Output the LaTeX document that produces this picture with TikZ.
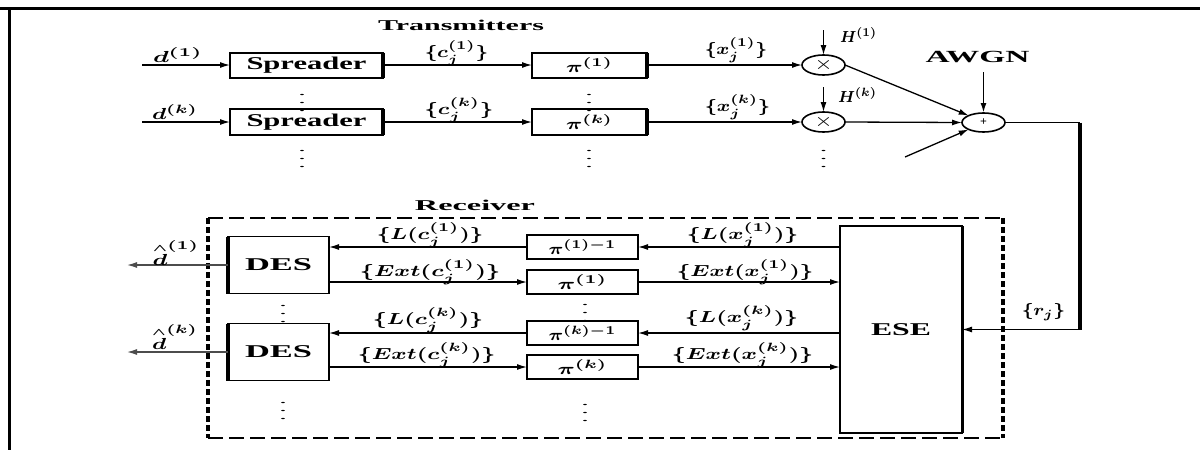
\documentclass[tikz,border=0pt]{standalone}
\usepackage{amsmath}
\usepackage{fontspec}
\setmainfont{Liberation Serif}
\usetikzlibrary{arrows.meta,shapes.geometric}
\newcommand{\hstr}[2]{\resizebox{#1}{\height}{#2}}
\newcommand{\dhat}{\overset{\scriptscriptstyle\wedge}{d}}
\newcommand{\vdt}{\hstr{4pt}{\fontsize{5.5}{6}\selectfont\boldmath$\vdots$}}
\begin{document}
\begin{tikzpicture}[x=0.5pt,y=-0.5pt,
  every node/.style={inner sep=0pt,outer sep=0pt},
  ln/.style={line width=0.65pt},
  arr/.style={ln,-{Latex[length=5pt,width=3pt]}},
  blk/.style={draw,line width=1pt,fill=white,font=\fontsize{9}{10}\selectfont\bfseries\boldmath},
  mul/.style={draw,ellipse,line width=0.8pt,minimum width=21.5pt,minimum height=10pt},
  lbl/.style={font=\fontsize{8}{9}\selectfont\boldmath},
  ttl/.style={font=\fontsize{7.5}{9}\selectfont\bfseries},
  vd/.style={}
]
\useasboundingbox (0,0) rectangle (1200,450);
\fill[white] (0,0) rectangle (1200,450);
% frame
\draw[line width=1.5pt] (0,8) -- (1200,8);
\draw[line width=1.5pt] (9,8) -- (9,450);

% ---------------- Transmitters ----------------
\node[ttl] (ttx) at (461,25) {\hstr{83pt}{Transmitters}};

\node[blk,minimum width=76.5pt,minimum height=12.5pt] (sp1) at (306.5,65) {\hstr{60pt}{Spreader}};
\node[blk,minimum width=76.5pt,minimum height=13pt] (sp2) at (306.5,122) {\hstr{60pt}{Spreader}};
\draw[line width=1.6pt] (sp1.north east) -- (sp1.south east);
\draw[line width=1.6pt] (sp2.north east) -- (sp2.south east);

\node[blk,font=\fontsize{8}{9}\selectfont\boldmath,minimum width=57.5pt,minimum height=12.5pt] (pi1) at (589.5,65) {\hstr{23.5pt}{$\pi^{(1)}$}};
\node[blk,font=\fontsize{8}{9}\selectfont\boldmath,minimum width=57.5pt,minimum height=13pt] (pi2) at (589.5,122) {\hstr{23.5pt}{$\pi^{(k)}$}};
\draw[line width=1.6pt] (pi1.north east) -- (pi1.south east);
\draw[line width=1.6pt] (pi2.north east) -- (pi2.south east);

\node[mul] (m1) at (823.5,65) {\hstr{9pt}{\fontsize{9}{9}\selectfont$\times$}};
\node[mul] (m2) at (823.5,122) {\hstr{9pt}{\fontsize{9}{9}\selectfont$\times$}};
\node[mul,minimum height=9.5pt] (sum) at (983.5,122.5) {\fontsize{6}{6}\selectfont\bfseries +};

\coordinate (in1) at (142,65);
\coordinate (in2) at (142,122);
\coordinate (h1) at (823.5,30);
\coordinate (h2) at (823.5,87);
\coordinate (aw) at (983.5,72);
\coordinate (lo) at (905,157);
\coordinate (c1) at (1080,122.5);
\coordinate (c2) at (1080,329.5);

\draw[arr] (in1) -- (sp1.west);
\draw[arr] (in2) -- (sp2.west);
\draw[arr] (sp1.east) -- (pi1.west);
\draw[arr] (sp2.east) -- (pi2.west);
\draw[arr] (pi1.east) -- (m1.west);
\draw[arr] (pi2.east) -- (m2.west);
\draw[arr] (h1) -- (m1.north);
\draw[arr] (h2) -- (m2.north);
\draw[arr] (m1.east) -- (sum.155);
\draw[arr] (m2.east) -- (sum.west);
\draw[arr] (lo) -- (sum.205);
\draw[arr,line width=0.9pt] (aw) -- (sum.north);

\node[lbl] (ld1) at (178,55) {\hstr{25pt}{$d^{(1)}$}};
\node[lbl] (ldk) at (175,112) {\hstr{23pt}{$d^{(k)}$}};
\node[lbl] (lc1) at (456.5,53) {\hstr{31.5pt}{$\{c_j^{(1)}\}$}};
\node[lbl] (lck) at (459,110) {\hstr{34pt}{$\{c_j^{(k)}\}$}};
\node[lbl] (lx1) at (736,50) {\hstr{31pt}{$\{x_j^{(1)}\}$}};
\node[lbl] (lxk) at (737.5,107) {\hstr{32.5pt}{$\{x_j^{(k)}\}$}};
\node[lbl] (lh1) at (858.5,35) {\hstr{18.5pt}{$\boldsymbol{H}^{(1)}$}};
\node[lbl] (lhk) at (857.5,95) {\hstr{19.5pt}{$\boldsymbol{H}^{(k)}$}};
\node[font=\fontsize{8.5}{10}\selectfont\bfseries] (awgn) at (977.5,57) {\hstr{52pt}{AWGN}};

\node[vd] (v1) at (302,97) {\vdt};
\node[vd] (v2) at (302,153) {\vdt};
\node[vd] (v3) at (589,97) {\vdt};
\node[vd] (v4) at (589,153) {\vdt};
\node[vd] (v5) at (823.5,153) {\vdt};

% feedback line
\draw[line width=0.9pt] (sum.east) -- (c1);
\draw[line width=1.8pt] (c1) -- (c2);

% ---------------- Receiver ----------------
\node[ttl] (trx) at (475,205) {\hstr{60pt}{Receiver}};
\draw[line width=1.3pt,dash pattern=on 7.5pt off 3pt] (208,218) -- (1003,218);
\draw[line width=1.3pt,dash pattern=on 7.5pt off 3pt] (208,438) -- (1003,438);
\draw[line width=1.8pt,dash pattern=on 3pt off 1.5pt] (208,218) -- (208,438);
\draw[line width=1.8pt,dash pattern=on 3pt off 1.5pt] (1003,218) -- (1003,438);

\node[blk,line width=0.6pt,minimum width=50.5pt,minimum height=28.5pt] (des1) at (278.5,265) {\hstr{33.5pt}{DES}};
\node[blk,line width=0.6pt,minimum width=50.5pt,minimum height=28.5pt] (des2) at (278.5,352) {\hstr{33.5pt}{DES}};
\draw[line width=1.6pt] (des1.north west) -- (des1.south west);
\draw[line width=1.6pt] (des2.north west) -- (des2.south west);

\node[blk,line width=0.8pt,minimum width=61pt,minimum height=103.5pt] (ese) at (901,329.5) {\hstr{30pt}{ESE}};
\draw[line width=1.5pt] (ese.north east) -- (ese.south east);

\node[blk,line width=0.9pt,font=\fontsize{8}{9}\selectfont\boldmath,minimum width=55.5pt,minimum height=12pt] (rp1i) at (582.5,247) {\hstr{34pt}{$\pi^{(1)-1}$}};
\node[blk,line width=0.9pt,font=\fontsize{8}{9}\selectfont\boldmath,minimum width=55.5pt,minimum height=12pt] (rp1) at (582.5,282) {\hstr{25pt}{$\pi^{(1)}$}};
\node[blk,line width=0.9pt,font=\fontsize{8}{9}\selectfont\boldmath,minimum width=55.5pt,minimum height=12pt] (rpki) at (582.5,333) {\hstr{34pt}{$\pi^{(k)-1}$}};
\node[blk,line width=0.9pt,font=\fontsize{8}{9}\selectfont\boldmath,minimum width=55.5pt,minimum height=12pt] (rpk) at (582.5,367) {\hstr{25pt}{$\pi^{(k)}$}};

\coordinate (o1) at (127,265);
\coordinate (o2) at (127,352);
\draw[arr,black!70] (des1.west) -- (o1);
\draw[arr,black!70] (des2.west) -- (o2);

\draw[arr] (rp1i.east -| ese.west) -- (rp1i.east);
\draw[arr] (rp1.east) -- (rp1.east -| ese.west);
\draw[arr] (rpki.east -| ese.west) -- (rpki.east);
\draw[arr] (rpk.east) -- (rpk.east -| ese.west);
\draw[arr] (rp1i.west) -- (rp1i.west -| des1.east);
\draw[arr] (rp1.west -| des1.east) -- (rp1.west);
\draw[arr] (rpki.west) -- (rpki.west -| des2.east);
\draw[arr] (rpk.west -| des2.east) -- (rpk.west);
\draw[arr] (c2) -- (ese.east);

\node[lbl] (ldh1) at (176,253) {\hstr{23.5pt}{$\dhat^{(1)}$}};
\node[lbl] (ldhk) at (175,337) {\hstr{23pt}{$\dhat^{(k)}$}};
\node[lbl] (lLc1) at (430,235) {\hstr{53pt}{$\{L(c_j^{(1)})\}$}};
\node[lbl] (lEc1) at (430,272) {\hstr{70pt}{$\{Ext(c_j^{(1)})\}$}};
\node[lbl] (lLck) at (428,320) {\hstr{55pt}{$\{L(c_j^{(k)})\}$}};
\node[lbl] (lEck) at (426.5,355) {\hstr{68.5pt}{$\{Ext(c_j^{(k)})\}$}};
\node[lbl] (lLx1) at (742.5,235) {\hstr{55.5pt}{$\{L(x_j^{(1)})\}$}};
\node[lbl] (lEx1) at (745,272) {\hstr{68pt}{$\{Ext(x_j^{(1)})\}$}};
\node[lbl] (lLxk) at (741.5,318) {\hstr{56.5pt}{$\{L(x_j^{(k)})\}$}};
\node[lbl] (lExk) at (742.5,355) {\hstr{70.5pt}{$\{Ext(x_j^{(k)})\}$}};
\node[lbl] (lr) at (1043.5,312) {\hstr{21.5pt}{$\{r_j\}$}};

\node[vd] (v6) at (283,308) {\vdt};
\node[vd] (v7) at (283,405) {\vdt};
\node[vd] (v8) at (585,307) {\vdt};
\node[vd] (v9) at (585,407) {\vdt};
\end{tikzpicture}
\end{document}
